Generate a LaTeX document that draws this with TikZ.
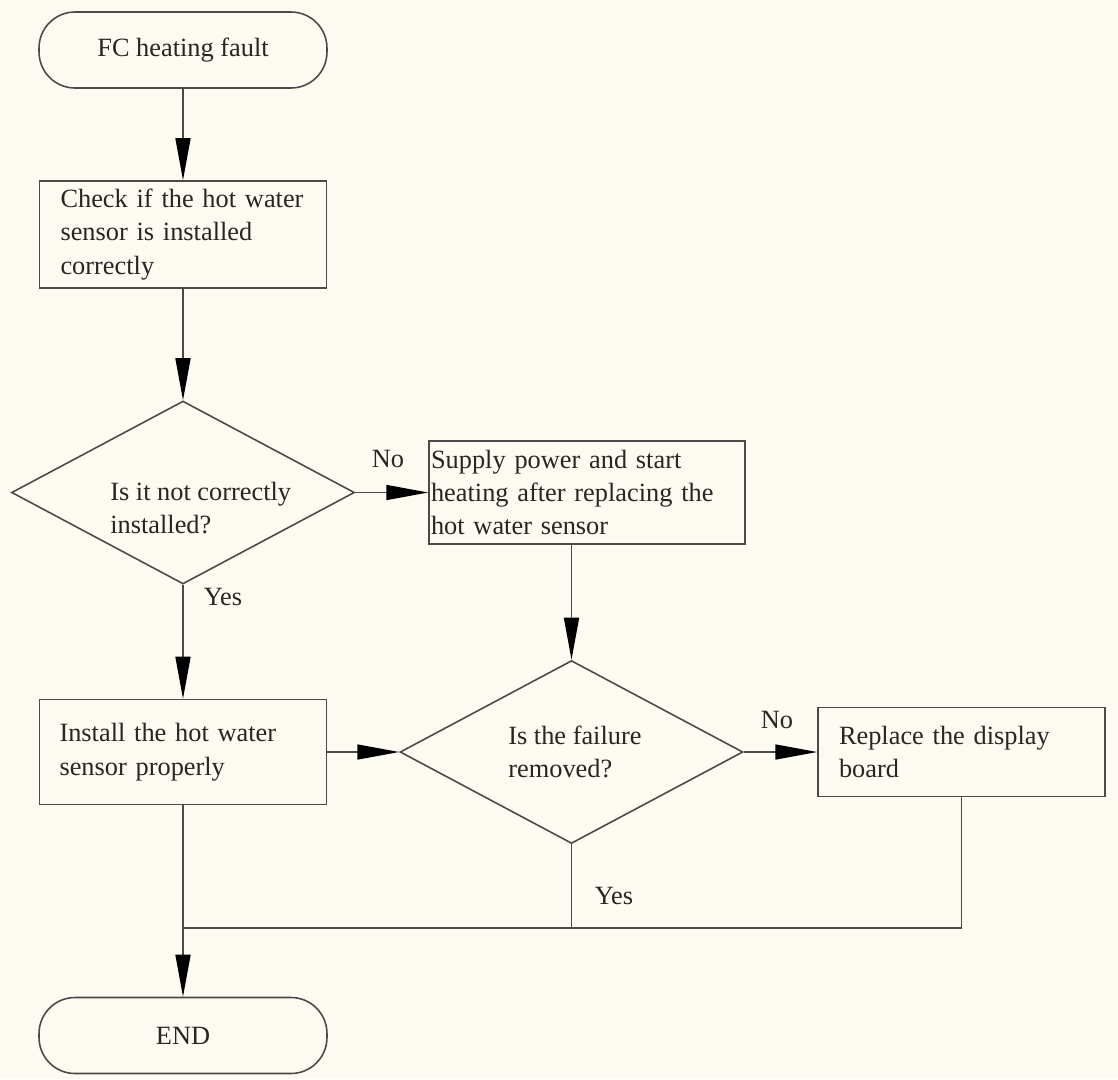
\documentclass[tikz,border=0pt]{standalone}
\usepackage{fontspec}
\setmainfont{Liberation Serif}
\usetikzlibrary{arrows.meta, shapes.geometric}
\definecolor{bg}{HTML}{FCFAF1}
\definecolor{ink}{HTML}{262626}
\definecolor{rule}{HTML}{4A4A4A}

\tikzset{
  base/.style={draw=rule, line width=0.9pt, fill=bg, font=\fontsize{15}{19}\selectfont, text=ink},
  terminal/.style={base, rectangle, rounded corners=0.72cm, minimum width=5.76cm, minimum height=1.52cm},
  process/.style={base, rectangle, align=left, inner ysep=0pt},
  decision/.style={base, diamond, minimum width=6.86cm, minimum height=3.66cm, inner sep=0pt},
  caption/.style={font=\fontsize{15}{19}\selectfont, text=ink, align=left, inner sep=0pt},
  flow/.style={draw=rule, line width=0.9pt, -{Triangle[length=0.84cm, width=0.3cm, black]}},
  link/.style={draw=rule, line width=0.9pt},
}

\begin{document}
\begin{tikzpicture}[x=0.02cm, y=-0.02cm]
  \fill[bg] (0,0) rectangle (1118,1079);
  \useasboundingbox (0,0) rectangle (1118,1079);

  \node[terminal] (start) at (183,50) {FC heating fault};
  \node[process, text width=4.9cm, inner xsep=0.42cm, minimum height=2.14cm] (check) at (183,234.5) {Check if the hot water\\sensor is installed\\correctly};
  \node[decision] (notok) at (183,492.5) {};
  \node[caption, anchor=west] (notoktext) at (110,508) {Is it not correctly\\installed?};
  \node[process, text width=6.24cm, inner xsep=0.04cm, minimum height=2.06cm] (replace) at (587,492.5) {Supply power and start\\heating after replacing the\\hot water sensor};
  \node[process, text width=4.94cm, inner xsep=0.4cm, minimum height=2.1cm] (install) at (183,752) {Install the hot water\\sensor properly};
  \node[decision] (removed) at (571.5,752) {};
  \node[caption, anchor=west] (removedtext) at (508,752) {Is the failure\\removed?};
  \node[process, text width=4.9cm, inner xsep=0.42cm, minimum height=1.78cm] (display) at (961.5,752) {Replace the display\\board};
  \node[terminal] (end) at (183,1035.5) {END};
  \coordinate (merge) at (183,928);

  \draw[flow] (start.south) -- (check.north);
  \draw[flow] (check.south) -- (notok.north);
  \draw[flow] (notok.east) -- (replace.west);
  \draw[flow] (notok.south) -- (install.north);
  \draw[flow] (replace.south -| removed.north) -- (removed.north);
  \draw[flow] (install.east) -- (removed.west);
  \draw[flow] (removed.east) -- (display.west);
  \draw[flow] (install.south) -- (end.north);
  \draw[link] (removed.south) -- (removed.south |- merge);
  \draw[link] (display.south) -- (display.south |- merge) -- (merge);

  \node[caption] (no1) at (388,459) {No};
  \node[caption] (yes1) at (223,597) {Yes};
  \node[caption] (no2) at (777,720) {No};
  \node[caption] (yes2) at (614,896) {Yes};
\end{tikzpicture}
\end{document}
